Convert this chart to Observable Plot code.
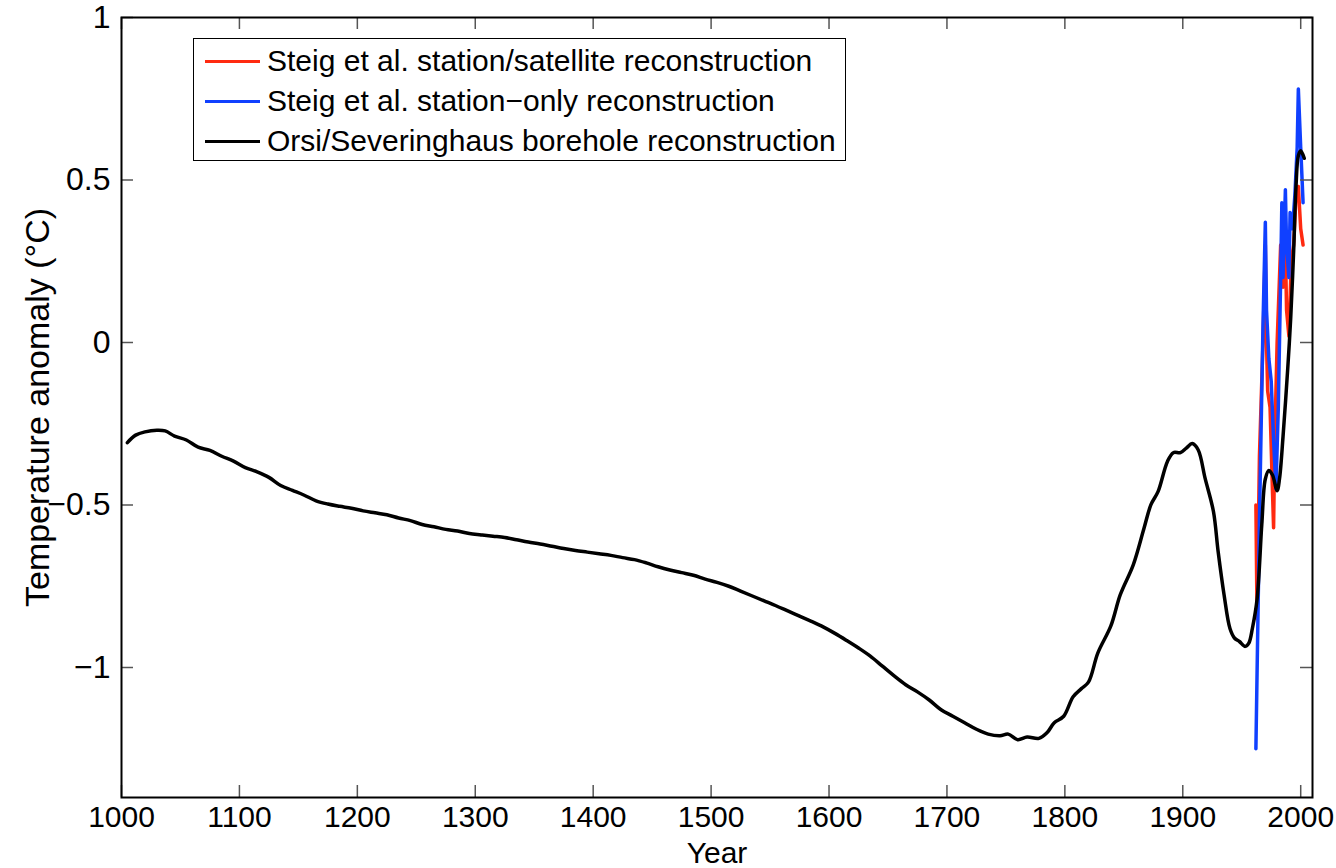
<!DOCTYPE html>
<html><head><meta charset="utf-8">
<script src="https://cdn.jsdelivr.net/npm/d3@7"></script>
<script src="https://cdn.jsdelivr.net/npm/@observablehq/plot@0.6"></script>
<style>
body{margin:0;background:#fff;}
#wrap{position:relative;width:1336px;height:868px;overflow:hidden;font-family:"Liberation Sans",Arial,sans-serif;}
#legend{position:absolute;left:193px;top:38px;width:653px;height:123px;border:1.5px solid #000;background:#fff;box-sizing:border-box;}
.row{position:absolute;left:11px;height:40px;display:flex;align-items:center;font-size:30px;white-space:nowrap;color:#000;}
.sw{width:55px;height:3px;margin-right:7px;}
</style></head>
<body><div id="wrap"><div id="legend"></div></div>
<script>
// Orsi/Severinghaus borehole reconstruction
const blackYears = [1005,1012,1020,1030,1037,1045,1055,1065,1075,1085,1095,1105,1115,1125,1135,1145,1155,1165,1175,1185,1195,1205,1215,1225,1235,1245,1255,1265,1275,1285,1295,1305,1315,1325,1335,1345,1355,1365,1375,1385,1395,1405,1415,1425,1435,1445,1455,1465,1475,1485,1495,1505,1515,1525,1535,1545,1555,1565,1575,1585,1595,1605,1615,1625,1635,1645,1655,1665,1675,1685,1695,1705,1715,1725,1735,1745,1752,1760,1768,1778,1785,1791,1799,1807,1814,1820,1828,1839,1847,1858,1867,1873,1879,1887,1892,1898,1903,1908,1913,1919,1926,1930,1935,1940,1944,1948,1953,1956,1959,1963,1967,1970,1973,1976,1980,1982,1985,1989,1991.5,1994,1996,1998,2000,2003];
const blackValues = [-0.308,-0.285,-0.275,-0.270,-0.272,-0.288,-0.300,-0.322,-0.332,-0.350,-0.365,-0.385,-0.398,-0.415,-0.440,-0.455,-0.470,-0.487,-0.497,-0.504,-0.510,-0.518,-0.524,-0.530,-0.540,-0.548,-0.560,-0.567,-0.575,-0.580,-0.588,-0.592,-0.596,-0.600,-0.607,-0.614,-0.620,-0.627,-0.634,-0.640,-0.645,-0.650,-0.655,-0.662,-0.668,-0.678,-0.690,-0.700,-0.708,-0.716,-0.728,-0.738,-0.750,-0.765,-0.780,-0.795,-0.810,-0.826,-0.842,-0.858,-0.875,-0.895,-0.917,-0.940,-0.965,-0.995,-1.025,-1.053,-1.075,-1.100,-1.130,-1.150,-1.170,-1.190,-1.205,-1.210,-1.205,-1.222,-1.214,-1.218,-1.200,-1.170,-1.150,-1.090,-1.065,-1.045,-0.955,-0.872,-0.776,-0.684,-0.573,-0.499,-0.459,-0.366,-0.339,-0.339,-0.325,-0.311,-0.330,-0.419,-0.520,-0.644,-0.776,-0.880,-0.910,-0.920,-0.935,-0.925,-0.880,-0.790,-0.560,-0.420,-0.394,-0.407,-0.456,-0.420,-0.290,-0.080,0.074,0.280,0.480,0.575,0.590,0.567];

// Steig et al. station/satellite reconstruction
const redYears = [1962,1963,1965,1968,1970,1971,1972,1974,1976,1977,1978,1980,1982,1983,1985,1987,1988,1990,1992,1994,1996,1998,2000,2002];
const redValues = [-0.50,-0.85,-0.35,0.00,0.30,0.00,-0.15,-0.20,-0.45,-0.57,-0.30,0.00,0.20,0.30,0.17,0.30,0.10,0.02,0.25,0.30,0.45,0.48,0.35,0.30];

// Steig et al. station-only reconstruction
const blueYears = [1962,1965,1968,1970,1971,1973,1975,1977,1979,1981,1983,1984,1985,1987,1988,1990,1991,1993,1995,1997,1998,2000,2002];
const blueValues = [-1.25,-0.55,0.05,0.37,0.10,-0.05,-0.12,-0.30,-0.45,-0.20,0.20,0.43,0.20,0.47,0.30,0.20,0.40,0.35,0.45,0.60,0.78,0.60,0.43];

const xTicks = [1000,1100,1200,1300,1400,1500,1600,1700,1800,1900,2000];
const yTicks = [-1,-0.5,0,0.5,1];

const seriesNames = ["Steig et al. station/satellite reconstruction","Steig et al. station\u2212only reconstruction","Orsi/Severinghaus borehole reconstruction"];
const seriesColors = ["#ff2a10","#1040ff","#000000"];

const toRows = (ys, vs) => ys.map((y, i) => ({year: y, value: vs[i]}));
const blackData = toRows(blackYears, blackValues);
const redData = toRows(redYears, redValues);
const blueData = toRows(blueYears, blueValues);

const W = 1336, H = 868, mL = 121, mR = 24, mT = 17, mB = 71;
const fw = W - mL - mR, fh = H - mT - mB;
const fmt = d => (d < 0 ? "\u2212" : "") + String(Math.abs(d));

const chart = Plot.plot({
  width: W, height: H,
  marginLeft: mL, marginRight: mR, marginTop: mT, marginBottom: mB,
  style: {fontFamily: "'Liberation Sans', Arial, sans-serif", fontSize: "30px", background: "white", color: "black"},
  x: {domain: [1000, 2010]},
  y: {domain: [-1.4, 1]},
  marks: [
    Plot.line(redData, {x: "year", y: "value", stroke: seriesColors[0], strokeWidth: 3.5}),
    Plot.line(blueData, {x: "year", y: "value", stroke: seriesColors[1], strokeWidth: 3.5}),
    Plot.line(blackData, {x: "year", y: "value", stroke: seriesColors[2], strokeWidth: 3.5, curve: "catmull-rom"}),
    Plot.tickX(xTicks, {x: d => d, insetTop: fh - 12, stroke: "#555", strokeWidth: 1.5}),
    Plot.tickX(xTicks, {x: d => d, insetBottom: fh - 12, stroke: "#555", strokeWidth: 1.5}),
    Plot.tickY(yTicks, {y: d => d, insetRight: fw - 12, stroke: "#555", strokeWidth: 1.5}),
    Plot.tickY(yTicks, {y: d => d, insetLeft: fw - 12, stroke: "#555", strokeWidth: 1.5}),
    Plot.frame({stroke: "black", strokeWidth: 2}),
    Plot.axisX(xTicks, {tickSize: 0, tickPadding: 8, tickFormat: d => String(d), fontSize: 30, label: null}),
    Plot.axisY(yTicks, {tickSize: 0, tickPadding: 11, tickFormat: fmt, fontSize: 32, label: null}),
    Plot.text(["Year"], {frameAnchor: "bottom", dy: 56, fontSize: 30, lineAnchor: "middle", textAnchor: "middle"}),
    Plot.text(["Temperature anomaly (\u00B0C)"], {frameAnchor: "left", dx: -83, rotate: -90, fontSize: 34, lineAnchor: "middle", textAnchor: "middle"})
  ]
});
document.getElementById("wrap").prepend(chart);

const legend = document.getElementById("legend");
seriesNames.forEach((name, i) => {
  const row = document.createElement("div");
  row.className = "row";
  row.style.top = (2 + i * 40) + "px";
  const sw = document.createElement("div");
  sw.className = "sw";
  sw.style.background = seriesColors[i];
  const tx = document.createElement("span");
  tx.textContent = name;
  row.appendChild(sw); row.appendChild(tx);
  legend.appendChild(row);
});
</script>
</body></html>
